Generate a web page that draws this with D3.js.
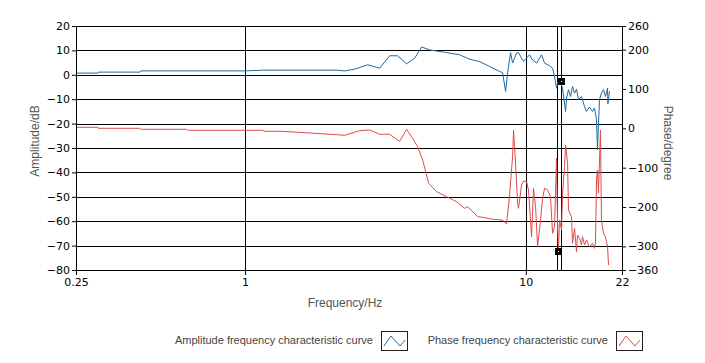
<!DOCTYPE html>
<html lang="en">
<head>
<meta charset="UTF-8">
<title>Frequency response</title>
<script src="https://cdn.jsdelivr.net/npm/d3@7"></script>
<style>
  body { margin: 0; background: #fff; }
  .tick text { font-family: "DejaVu Sans", sans-serif; font-size: 11px; fill: #000; }
  .axis path, .axis line { stroke: #000; }
  .title { font-family: "Liberation Sans", Arial, sans-serif; font-size: 12px; fill: #555; }
  .legend { font-family: "Liberation Sans", Arial, sans-serif; font-size: 11px; fill: #444; }
</style>
</head>
<body>
<script>
// amplitude curve: frequency (Hz) -> dB
const ampFreq = [0.25, 0.299, 0.30, 0.422, 0.425, 1.0, 1.156, 2.12, 2.263, 2.457, 2.734, 3.015, 3.273, 3.494,
  3.762, 4.018, 4.255, 4.544, 5.223, 5.809, 6.305, 6.844, 7.428, 8.062, 8.263, 8.469, 8.608, 8.823, 8.968,
  9.267, 9.419, 9.654, 9.813, 10.31, 10.56, 10.92, 11.37, 11.66, 12.14, 12.45, 12.65, 12.86, 12.97, 13.18,
  13.51, 13.85, 13.96, 14.19, 14.43, 14.66, 14.91, 15.15, 15.40, 15.78, 16.18, 16.44, 16.85, 17.28, 17.56,
  17.85, 17.99, 18.29, 18.59, 18.90, 19.21, 19.54, 19.60, 19.86];
const ampDb = [0.7, 0.7, 1.1, 1.1, 1.6, 1.6, 1.9, 1.9, 1.6, 2.3, 4.1, 2.7, 7.8, 7.8,
  4.5, 6.8, 11.4, 10.2, 9.1, 8.2, 6.4, 5.4, 3.4, 1.4, 0.9, -6.8, 0.7, 9.1, 4.8,
  8.9, 9.1, 6.8, 5.5, 8.2, 6.1, 4.8, 8.2, 4.8, 3.7, 2.7, -0.7, -5.5, -3.3, -2.0,
  -5.5, -15.0, -9.5, -6.1, -8.9, -4.8, -7.5, -5.9, -10.2, -8.9, -13.0, -15.0, -13.2, -15.0, -13.6,
  -18.4, -30.7, -10.2, -7.5, -6.1, -8.9, -5.5, -11.9, -6.8];

// phase curve: frequency (Hz) -> degree
const phaseFreq = [0.25, 0.299, 0.30, 0.422, 0.425, 0.62, 0.625, 1.156, 1.17, 1.362, 1.699, 2.12, 2.263, 2.56,
  2.779, 3.015, 3.273, 3.552, 3.762, 3.952, 4.118, 4.29, 4.507, 4.812, 5.223, 5.668, 6.051, 6.202, 6.735,
  7.0, 7.613, 8.263, 8.537, 8.750, 8.968, 9.041, 9.192, 9.344, 9.419, 9.654, 9.813, 10.06, 10.22, 10.48,
  10.65, 10.83, 11.01, 11.28, 11.47, 11.66, 11.95, 12.24, 12.45, 12.65, 12.86, 12.97, 13.07, 13.18, 13.40,
  13.51, 13.73, 13.85, 14.08, 14.19, 14.54, 14.66, 14.91, 15.15, 15.28, 15.53, 15.78, 15.91, 16.18, 16.44,
  16.85, 17.28, 17.56, 17.70, 17.85, 17.99, 18.14, 18.44, 18.59, 18.90, 19.21, 19.54, 19.70];
const phaseDeg = [2.6, 2.6, 0.1, 0.1, -2.5, -2.5, -5.0, -5.0, -7.6, -7.6, -11.9, -16.2, -17.7, -6.0,
  -4.3, -15.2, -15.2, -33.0, -2.5, -25.4, -46.7, -80.5, -139.7, -161.0, -173.8, -186.5, -203.2, -199.2, -224.6,
  -226, -231.2, -233.0, -243.1, -169.4, -72.1, -4.3, -88.9, -190.5, -203.2, -144.0, -133.9, -135.6, -156.7, -275.4,
  -152.4, -199.2, -300.8, -233.0, -177.8, -152.4, -156.7, -173.8, -266.8, -250.0, -76.2, -250.0, -309.2, -233.0, -258.4,
  -165.1, -97.5, -42.4, -88.9, -207.5, -224.6, -292.2, -254.1, -313.5, -271.1, -279.5, -296.5, -275.4, -296.5, -283.8,
  -300.8, -292.2, -304.9, -292.2, -131.3, -105.9, -165.1, -4.3, -233.0, -266.8, -275.4, -300.8, -347.3];

const freqTicks = [0.25, 1, 10, 22];
const dbTicks = [20, 10, 0, -10, -20, -30, -40, -50, -60, -70, -80];
const degTicks = [260, 200, 100, 0, -100, -200, -300, -360];
const cursorFreq = [12.92, 13.29];
const ampMarker = { f: 13.29, v: -2.6 };
const phaseMarker = { f: 12.99, v: -312.5 };

const W = 705, H = 363;
const m = { l: 76, r: 622, t: 26, b: 270 };
const blue = "#1a6aa6", red = "#e04a4a";

const svg = d3.select("body").append("svg")
  .attr("width", W)
  .attr("height", H);

const x = d3.scaleLog().domain([0.25, 22]).range([m.l, m.r]);
const yL = d3.scaleLinear().domain([-80, 20]).range([m.b, m.t]);
const yR = d3.scaleLinear().domain([-360, 260]).range([m.b, m.t]);

const px = v => Math.round(v) + 0.5;

// grid
const grid = svg.append("g").attr("shape-rendering", "crispEdges");
grid.selectAll(".h").data(dbTicks).enter().append("line")
  .attr("x1", m.l).attr("x2", m.r)
  .attr("y1", d => px(yL(d))).attr("y2", d => px(yL(d)))
  .attr("stroke", "#000");
grid.selectAll(".v").data([1, 10]).enter().append("line")
  .attr("x1", d => px(x(d))).attr("x2", d => px(x(d)))
  .attr("y1", m.t).attr("y2", m.b)
  .attr("stroke", "#000");
grid.selectAll(".c").data(cursorFreq).enter().append("line")
  .attr("x1", d => px(x(d))).attr("x2", d => px(x(d)))
  .attr("y1", m.t).attr("y2", m.b)
  .attr("stroke", "#000");

// curves
const ampLine = d3.line().x(d => x(d[0])).y(d => yL(d[1]));
const phaseLine = d3.line().x(d => x(d[0])).y(d => yR(d[1]));

svg.append("path")
  .datum(phaseFreq.map((f, i) => [f, phaseDeg[i]]))
  .attr("d", phaseLine)
  .attr("fill", "none").attr("stroke", red).attr("stroke-width", 1);

svg.append("path")
  .datum(ampFreq.map((f, i) => [f, ampDb[i]]))
  .attr("d", ampLine)
  .attr("fill", "none").attr("stroke", blue).attr("stroke-width", 1);

// cursor markers
[[x(ampMarker.f), yL(ampMarker.v)], [x(phaseMarker.f), yR(phaseMarker.v)]].forEach(p => {
  svg.append("rect").attr("x", Math.round(p[0]) - 3).attr("y", Math.round(p[1]) - 3)
    .attr("width", 7).attr("height", 7).attr("fill", "#000");
  svg.append("rect").attr("x", Math.round(p[0])).attr("y", Math.round(p[1]))
    .attr("width", 1).attr("height", 1).attr("fill", "#fff");
});

// axes
svg.append("g").attr("class", "axis")
  .attr("transform", `translate(${m.l},0)`)
  .call(d3.axisLeft(yL).tickValues(dbTicks).tickSize(4).tickSizeOuter(0).tickPadding(2));

svg.append("g").attr("class", "axis")
  .attr("transform", `translate(${m.r},0)`)
  .call(d3.axisRight(yR).tickValues(degTicks).tickSize(4).tickSizeOuter(0).tickPadding(2));

svg.append("g").attr("class", "axis")
  .attr("transform", `translate(0,${m.b})`)
  .call(d3.axisBottom(x).tickValues(freqTicks).tickFormat(d => String(d)).tickSize(5).tickSizeOuter(0).tickPadding(3));

// titles
svg.append("text").attr("class", "title")
  .attr("transform", `translate(39,141) rotate(-90)`)
  .attr("text-anchor", "middle").text("Amplitude/dB");
svg.append("text").attr("class", "title")
  .attr("transform", `translate(664,143) rotate(90)`)
  .attr("text-anchor", "middle").text("Phase/degree");
svg.append("text").attr("class", "title")
  .attr("x", 345).attr("y", 307)
  .attr("text-anchor", "middle").text("Frequency/Hz");

// legend
const legendItems = [
  { label: "Amplitude frequency characteristic curve", color: blue, tx: 373, bx: 381 },
  { label: "Phase frequency characteristic curve", color: red, tx: 608, bx: 616 }
];
legendItems.forEach(it => {
  svg.append("text").attr("class", "legend")
    .attr("x", it.tx).attr("y", 344).attr("text-anchor", "end").text(it.label);
  const g = svg.append("g").attr("transform", `translate(${it.bx},331)`);
  g.append("rect").attr("x", 0.5).attr("y", 0.5).attr("width", 26).attr("height", 19)
    .attr("fill", "#fff").attr("stroke", "#222");
  g.append("path").attr("d", "M3,15 L10,5 L19,15 L24,9")
    .attr("fill", "none").attr("stroke", it.color);
});
</script>
</body>
</html>
